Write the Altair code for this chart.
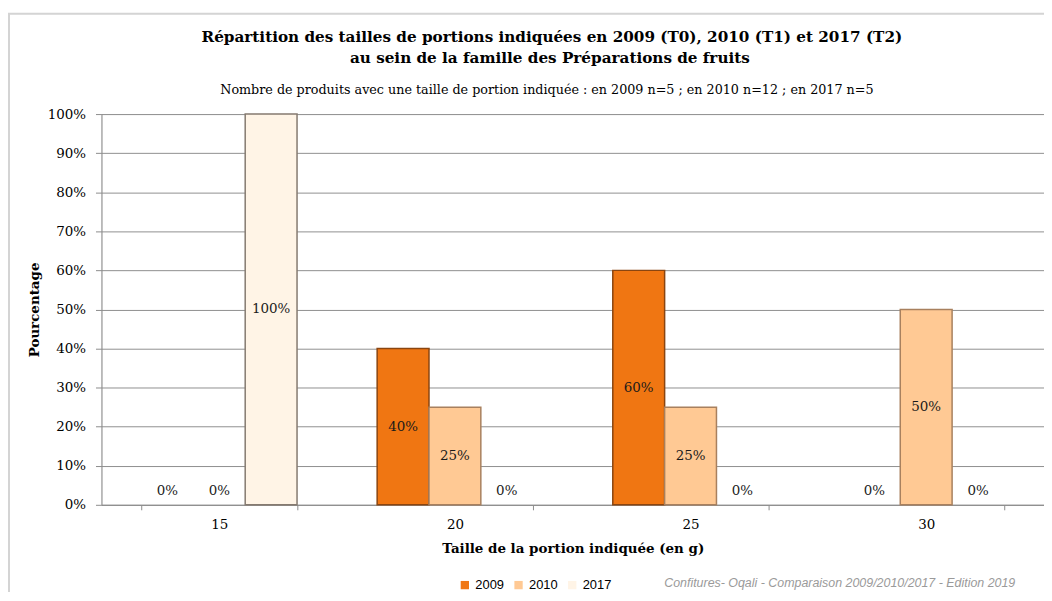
import altair as alt
import pandas as pd

sizes = ["15", "20", "25", "30"]
years = ["2009", "2010", "2017"]
v2009 = [0, 40, 60, 0]
v2010 = [0, 25, 25, 50]
v2017 = [100, 0, 0, 0]
fills = ["#F07612", "#FFC994", "#FFF4E6"]
strokes = ["#8A4510", "#A8805E", "#857A70"]

title1 = "Répartition des tailles de portions indiquées en 2009 (T0), 2010 (T1) et 2017 (T2)"
title2 = "au sein de la famille des Préparations de fruits"
subtitle = "Nombre de produits avec une taille de portion indiquée : en 2009 n=5 ; en 2010 n=12 ; en 2017 n=5"
footer = "Confitures- Oqali - Comparaison 2009/2010/2017  - Edition 2019"

rows = []
for yr, vals in zip(years, [v2009, v2010, v2017]):
    for s, v in zip(sizes, vals):
        rows.append({"taille": s, "annee": yr, "pct": v, "lab": f"{v}%"})
df = pd.DataFrame(rows)

SERIF = "DejaVu Serif"

xscale = alt.Scale(paddingInner=0.34, paddingOuter=0.17)
x_axis = alt.Axis(title="Taille de la portion indiquée (en g)", labelAngle=0,
                  tickBand="extent", tickSize=5, labelPadding=8,
                  titlePadding=10, labelFontSize=13.5, titleFontSize=13.5,
                  labelFont=SERIF, titleFont=SERIF, domainColor="#8c8c8c",
                  tickColor="#8c8c8c", titleFontWeight="bold", grid=False)
y_axis = alt.Axis(title="Pourcentage", values=list(range(0, 101, 10)),
                  labelExpr="datum.value + '%'", tickSize=6, labelPadding=10,
                  titlePadding=6, labelFontSize=13.5, titleFontSize=13.5,
                  labelFont=SERIF, titleFont=SERIF, domainColor="#8c8c8c",
                  tickColor="#8c8c8c", gridColor="#8f8f8f", gridOpacity=1,
                  titleFontWeight="bold", grid=True)
X = alt.X("taille:N", sort=sizes, scale=xscale, axis=x_axis)
xo = alt.XOffset("annee:N", sort=years, scale=alt.Scale(paddingInner=0, paddingOuter=0))
yscale = alt.Scale(domain=[0, 100])

base = alt.Chart(df)

bars = base.transform_filter("datum.pct > 0").mark_bar(strokeWidth=1.5).encode(
    x=X, xOffset=xo,
    y=alt.Y("pct:Q", scale=yscale, axis=y_axis),
    color=alt.Color("annee:N", sort=years, scale=alt.Scale(domain=years, range=fills),
                    legend=alt.Legend(title=None, orient="none", direction="horizontal",
                                      legendX=359, legendY=467, symbolType="square",
                                      symbolSize=70, labelFontSize=13, columnPadding=8,
                                      labelFont="Liberation Sans Narrow, Liberation Sans",
                                      symbolStrokeWidth=0)),
    stroke=alt.Stroke("annee:N", sort=years, scale=alt.Scale(domain=years, range=strokes), legend=None),
)

labels = base.transform_filter("datum.pct > 0").transform_calculate(mid="datum.pct / 2").mark_text(
    baseline="middle", fontSize=13.5, font=SERIF, color="#1a1a1a").encode(
    x=X, xOffset=xo, y=alt.Y("mid:Q", scale=yscale, axis=y_axis), text="lab:N")

zeros = base.transform_filter("datum.pct == 0").mark_text(
    baseline="middle", dy=-14, fontSize=13.5, font=SERIF, color="#1a1a1a").encode(
    x=X, xOffset=xo, y=alt.Y("pct:Q", scale=yscale, axis=y_axis), text="lab:N")

one = alt.Chart(pd.DataFrame({"k": [0]}))
frame = one.mark_rect(fillOpacity=0, stroke="#d4d4d4", strokeWidth=2).encode(
    x=alt.value(-93), x2=alt.value(1100), y=alt.value(-101), y2=alt.value(700))
t1 = one.mark_text(align="center", baseline="alphabetic", fontSize=15.3, fontWeight="bold",
                   font=SERIF, color="#000000").encode(
    x=alt.value(453), y=alt.value(-72), text=alt.value(title1))
t2 = one.mark_text(align="center", baseline="alphabetic", fontSize=15.3, fontWeight="bold",
                   font=SERIF, color="#000000").encode(
    x=alt.value(451), y=alt.value(-51), text=alt.value(title2))
st = one.mark_text(align="center", baseline="alphabetic", fontSize=12.8,
                   font=SERIF, color="#000000").encode(
    x=alt.value(448), y=alt.value(-20), text=alt.value(subtitle))
foot = one.mark_text(align="left", baseline="alphabetic", fontSize=12.5, fontStyle="italic",
                     font="Liberation Sans", color="#9a9a9a").encode(
    x=alt.value(566), y=alt.value(476), text=alt.value(footer))

chart = alt.layer(frame, bars, labels, zeros, t1, t2, st, foot).properties(
    width=948, height=393,
    autosize=alt.AutoSizeParams(type="none"),
    padding={"left": 94, "top": 105, "right": 0, "bottom": 86},
).configure_view(stroke=None).configure_axis(
    labelColor="#000000", titleColor="#000000",
).configure(background="white")

chart.save("out.html", embed_options={"renderer": "svg", "actions": False})
